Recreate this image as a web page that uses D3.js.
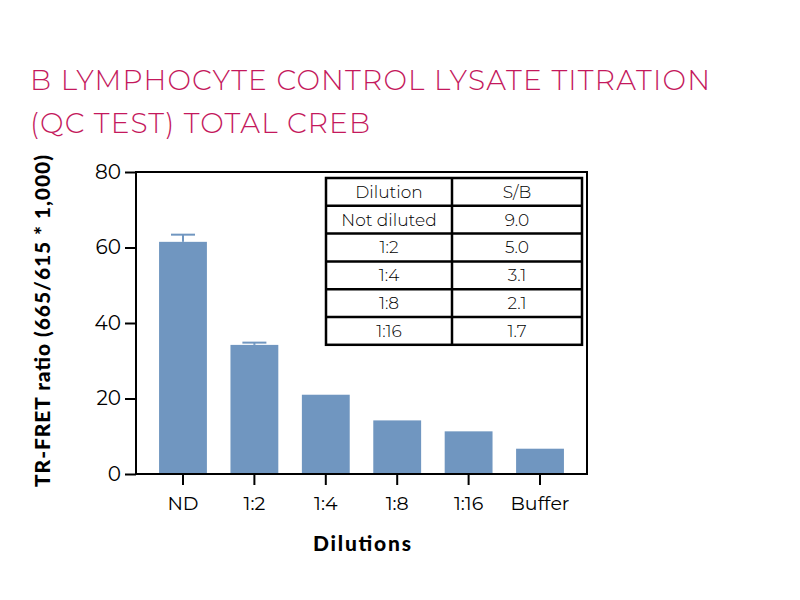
<!DOCTYPE html>
<html><head><meta charset="utf-8">
<script src="https://cdn.jsdelivr.net/npm/d3@7"></script>
<style>body{margin:0;background:#fff}</style>
</head><body>
<svg id="c" width="800" height="600"></svg>
<script>
const categories = ["ND","1:2","1:4","1:8","1:16","Buffer"];
const values = [61.5, 34.2, 21.0, 14.2, 11.3, 6.7];
const errors = [1.9, 0.6, 0, 0, 0, 0];
const yTicks = [0,20,40,60,80];
const tableHeader = ["Dilution","S/B"];
const tableDilutions = ["Not diluted","1:2","1:4","1:8","1:16"];
const tableSB = ["9.0","5.0","3.1","2.1","1.7"];

const svg = d3.select("#c");
const font = "Montserrat, 'Open Sans', 'Noto Sans', sans-serif";
const pL = 136, pR = 587, pT = 172, pB = 474;

svg.append("text").attr("x",30).attr("y",90).attr("fill","#c4185c")
  .attr("font-family",font).attr("font-weight",300).attr("font-size",28)
  .attr("textLength",680).text("B LYMPHOCYTE CONTROL LYSATE TITRATION");
svg.append("text").attr("x",30).attr("y",133).attr("fill","#c4185c")
  .attr("font-family",font).attr("font-weight",300).attr("font-size",28)
  .attr("textLength",340).text("(QC TEST) TOTAL CREB");

const x = d3.scaleBand().domain(categories).range([pL,pR]).paddingInner(0.33).paddingOuter(0.323);
const y = d3.scaleLinear().domain([0,80]).range([pB,pT]);

// bars
svg.selectAll("rect.bar").data(values).enter().append("rect")
  .attr("x",(d,i)=>x(categories[i])).attr("width",x.bandwidth())
  .attr("y",d=>y(d)).attr("height",d=>y(0)-y(d)).attr("fill","#7096c0");

// error bars
const eb = svg.append("g").attr("stroke","#7096c0").attr("stroke-width",2);
values.forEach((v,i)=>{
  if(!errors[i]) return;
  const cx = x(categories[i]) + x.bandwidth()/2;
  eb.append("line").attr("x1",cx).attr("x2",cx).attr("y1",y(v)).attr("y2",y(v+errors[i]));
  eb.append("line").attr("x1",cx-12).attr("x2",cx+12).attr("y1",y(v+errors[i])).attr("y2",y(v+errors[i]));
});

// frame
svg.append("path").attr("d",`M${pL},${pB}V${pT}H${pR}V${pB}H${pL}`)
  .attr("fill","none").attr("stroke","#000").attr("stroke-width",2);

// y axis
const ya = svg.append("g").attr("transform",`translate(${pL},0)`)
  .call(d3.axisLeft(y).tickValues(yTicks).tickSize(11).tickSizeOuter(0).tickPadding(4));
ya.select(".domain").remove();
ya.selectAll("line").attr("stroke","#000").attr("stroke-width",2);
ya.selectAll("text").attr("font-family",font).attr("font-size",20).attr("fill","#000");

// x axis
const xa = svg.append("g").attr("transform",`translate(0,${pB})`)
  .call(d3.axisBottom(x).tickSize(11).tickSizeOuter(0).tickPadding(12));
xa.select(".domain").remove();
xa.selectAll("line").attr("stroke","#000").attr("stroke-width",2);
xa.selectAll("text").attr("font-family",font).attr("font-size",19).attr("fill","#000");

// axis titles
svg.append("text").attr("x",362).attr("y",551).attr("text-anchor","middle")
  .attr("font-family","Lato, 'Open Sans', sans-serif").attr("font-weight",900).attr("font-size",21)
  .attr("textLength",98).text("Dilutions");
svg.append("text").attr("transform","translate(50,321) rotate(-90)").attr("text-anchor","middle")
  .attr("font-family","Lato, 'Open Sans', sans-serif").attr("font-weight",900).attr("font-size",21)
  .attr("textLength",332).text("TR-FRET ratio (665/615 * 1,000)");

// table
const tX0 = 326, tX1 = 452, tX2 = 582, tY0 = 178, rowH = 27.8;
const rows = [tableHeader].concat(tableDilutions.map((d,i)=>[d,tableSB[i]]));
const tg = svg.append("g");
tg.append("rect").attr("x",tX0).attr("y",tY0).attr("width",tX2-tX0).attr("height",rowH*rows.length)
  .attr("fill","#fff").attr("stroke","#000").attr("stroke-width",2.5);
tg.append("line").attr("x1",tX1).attr("x2",tX1).attr("y1",tY0).attr("y2",tY0+rowH*rows.length)
  .attr("stroke","#000").attr("stroke-width",2.5);
rows.forEach((r,i)=>{
  if(i>0) tg.append("line").attr("x1",tX0).attr("x2",tX2).attr("y1",tY0+rowH*i).attr("y2",tY0+rowH*i)
    .attr("stroke","#000").attr("stroke-width",2.5);
  tg.append("text").attr("x",(tX0+tX1)/2).attr("y",tY0+rowH*i+rowH/2).attr("dy","0.35em")
    .attr("text-anchor","middle").attr("font-family",font).attr("font-weight",300).attr("font-size",17).text(r[0]);
  tg.append("text").attr("x",(tX1+tX2)/2).attr("y",tY0+rowH*i+rowH/2).attr("dy","0.35em")
    .attr("text-anchor","middle").attr("font-family",font).attr("font-weight",300).attr("font-size",17).text(r[1]);
});
</script>
</body></html>
